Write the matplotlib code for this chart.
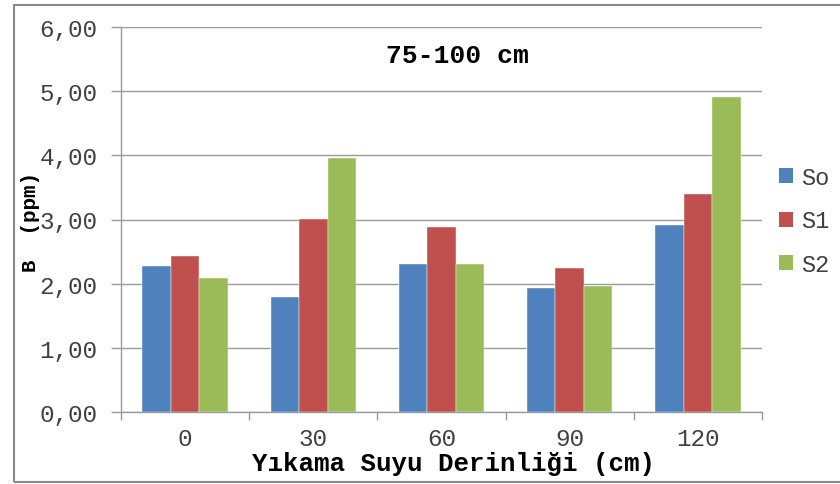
import matplotlib
matplotlib.use("Agg")
import matplotlib.pyplot as plt
import numpy as np
from matplotlib.patches import Rectangle, Patch
from matplotlib.ticker import FuncFormatter

categories = ["0", "30", "60", "90", "120"]
series_names = ["So", "S1", "S2"]
so_vals = [2.27, 1.79, 2.31, 1.93, 2.91]
s1_vals = [2.43, 3.01, 2.89, 2.25, 3.40]
s2_vals = [2.09, 3.96, 2.31, 1.96, 4.91]
colors = ["#4F81BD", "#C0504D", "#9BBB59"]
yticks = [0, 1, 2, 3, 4, 5, 6]

plt.rcParams['font.family'] = ['Liberation Mono', 'DejaVu Sans Mono']

fig = plt.figure(figsize=(8.4, 4.85), dpi=100)
ax = fig.add_axes([121/840, 1-413/485, (762-121)/840, (413-28)/485])

x = np.arange(len(categories))
w = 1/4.5
for i, (vals, c) in enumerate(zip([so_vals, s1_vals, s2_vals], colors)):
    ax.bar(x + (i-1)*w, vals, width=w, color=c, edgecolor='white', linewidth=0.3, zorder=3, label=series_names[i])

ax.set_xlim(-0.5, len(categories)-0.5)
ax.set_ylim(0, 6)
ax.set_yticks(yticks)
ax.yaxis.set_major_formatter(FuncFormatter(lambda v, p: f"{v:.2f}".replace('.', ',')))
ax.grid(axis='y', color='#9a9a9a', linewidth=1.0, zorder=0)
ax.set_axisbelow(True)

ax.set_xticks(x)
ax.set_xticklabels(categories)
ax.set_xticks(np.arange(-0.5, len(categories), 1), minor=True)
ax.tick_params(axis='x', which='major', length=0, pad=11, labelsize=17.5, labelcolor='#404040')
ax.tick_params(axis='x', which='minor', length=6, width=1, color='#9a9a9a')
ax.tick_params(axis='y', length=7, width=1, color='#9a9a9a', pad=10, labelsize=17.5, labelcolor='#404040')

for s in ['top', 'right']:
    ax.spines[s].set_visible(False)
for s in ['left', 'bottom']:
    ax.spines[s].set_color('#9a9a9a')
    ax.spines[s].set_linewidth(1.0)

fig.text(453/840, 1-464/485, "Yıkama Suyu Derinliği (cm)", ha='center', va='center', fontsize=18.5, fontweight='bold')
fig.text(30/840, 1-222/485, "B  (ppm)", rotation=90, ha='center', va='center', fontsize=15, fontweight='bold')
fig.text(457/840, 1-56/485, "75-100 cm", ha='center', va='center', fontsize=19, fontweight='bold')

handles = [Patch(facecolor=c, edgecolor='none') for c in colors]
fig.legend(handles, series_names, loc='center left', bbox_to_anchor=(779/840, 1-222/485),
           frameon=False, fontsize=17, handlelength=0.6, handleheight=0.6, handletextpad=0.35,
           labelspacing=0.88, borderpad=0, borderaxespad=0, labelcolor='#404040')

fig.add_artist(Rectangle((14/840, 1-483/485), 1.0, (483-6)/485, transform=fig.transFigure,
                         fill=False, edgecolor='#8a8a8a', linewidth=1.5))

fig.savefig("out.png", dpi=100)
